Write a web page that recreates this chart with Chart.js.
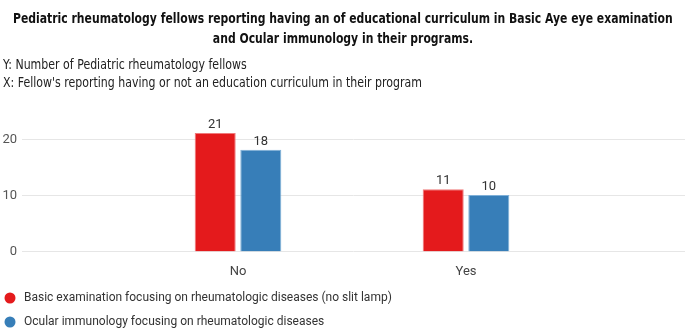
<!DOCTYPE html>
<html>
<head>
<meta charset="utf-8">
<script src="https://cdn.jsdelivr.net/npm/chart.js@4/dist/chart.umd.min.js"></script>
<style>
  html, body { margin: 0; padding: 0; background: #fff; }
  #wrap { position: relative; width: 685px; height: 331px; overflow: hidden; }
  #c { position: absolute; left: 0; top: 0; }
  .ln { position: absolute; white-space: nowrap; font-family: 'DejaVu Sans', sans-serif; }
  .t { font-weight: bold; font-size: 14px; line-height: 20px; color: #111; transform-origin: 50% 50%; }
  .s { font-size: 14px; line-height: 18px; color: #222; transform-origin: 0 50%; left: 3px; }
</style>
</head>
<body>
<div id="wrap">
  <canvas id="c" width="685" height="331"></canvas>
</div>
<script>
const titleLines = [
  "Pediatric rheumatology fellows reporting having an of educational curriculum in Basic Aye eye examination",
  "and Ocular immunology in their programs."
];
const axisNotes = [
  "Y: Number of Pediatric rheumatology fellows",
  "X: Fellow's reporting having or not an education curriculum in their program"
];
const categories = ["No", "Yes"];
const seriesNames = [
  "Basic examination focusing on rheumatologic diseases (no slit lamp)",
  "Ocular immunology focusing on rheumatologic diseases"
];
const basicExam = [21, 11];
const ocularImmunology = [18, 10];
const yTicks = [0, 10, 20];
const colors = ["#e41a1c", "#377eb8"];

// header text (real text), horizontally condensed to match the reference
const wrap = document.getElementById('wrap');
const titleEls = titleLines.map((txt, i) => {
  const d = document.createElement('div');
  d.className = 'ln t';
  d.textContent = txt;
  d.style.top = (8 + i * 20) + 'px';
  wrap.appendChild(d);
  return d;
});
const subEls = axisNotes.map((txt, i) => {
  const d = document.createElement('div');
  d.className = 'ln s';
  d.textContent = txt;
  d.style.top = (55 + i * 18) + 'px';
  wrap.appendChild(d);
  return d;
});
const tScale = 660 / titleEls[0].offsetWidth;
titleEls.forEach(d => {
  const w = d.offsetWidth;
  d.style.left = ((685 - w) / 2) + 'px';
  d.style.transform = 'scaleX(' + tScale + ')';
});
const sScale = 419 / subEls[1].offsetWidth;
subEls.forEach(d => { d.style.transform = 'scaleX(' + sScale + ')'; });

const FONT = "Roboto, 'Liberation Sans', sans-serif";

const extrasPlugin = {
  id: 'extras',
  beforeDatasetsDraw(chart) {
    const ctx = chart.ctx, y = chart.scales.y;
    ctx.save();
    ctx.strokeStyle = '#e6e6e6';
    ctx.lineWidth = 1;
    ctx.fillStyle = '#555';
    ctx.font = '13px ' + FONT;
    ctx.textAlign = 'right';
    ctx.textBaseline = 'middle';
    yTicks.forEach(v => {
      const py = Math.round(y.getPixelForValue(v)) + 0.5;
      ctx.beginPath();
      ctx.moveTo(22, py);
      ctx.lineTo(chart.width, py);
      ctx.stroke();
      ctx.fillText(String(v), 17, py);
    });
    ctx.restore();
  },
  afterDatasetsDraw(chart) {
    const ctx = chart.ctx;
    ctx.save();
    ctx.fillStyle = '#333';
    ctx.font = '13px ' + FONT;
    ctx.textAlign = 'center';
    ctx.textBaseline = 'bottom';
    chart.data.datasets.forEach((ds, i) => {
      chart.getDatasetMeta(i).data.forEach((bar, j) => {
        ctx.fillText(String(ds.data[j]), bar.x, bar.y - 2);
      });
    });
    // legend
    ctx.font = '12px ' + FONT;
    ctx.textAlign = 'left';
    ctx.textBaseline = 'middle';
    chart.data.datasets.forEach((ds, i) => {
      const cy = 298 + i * 24;
      ctx.beginPath();
      ctx.arc(10, cy, 5.5, 0, Math.PI * 2);
      ctx.fillStyle = ds.backgroundColor;
      ctx.fill();
      ctx.fillStyle = '#333';
      ctx.fillText(ds.label, 24, cy);
    });
    ctx.restore();
  }
};

new Chart(document.getElementById('c'), {
  type: 'bar',
  data: {
    labels: categories,
    datasets: [
      { label: seriesNames[0], data: basicExam, backgroundColor: colors[0], borderColor: '#f07a7b', borderWidth: 1 },
      { label: seriesNames[1], data: ocularImmunology, backgroundColor: colors[1], borderColor: '#7fb0d8', borderWidth: 1 }
    ]
  },
  options: {
    responsive: false,
    animation: false,
    events: [],
    layout: { padding: { left: 124, right: 105, top: 116, bottom: 46 } },
    datasets: { bar: { categoryPercentage: 0.4, barPercentage: 0.9 } },
    plugins: { legend: { display: false }, title: { display: false }, tooltip: { enabled: false } },
    scales: {
      x: {
        grid: { display: false },
        border: { display: false },
        ticks: { color: '#444', font: { family: FONT, size: 13 }, padding: 5 }
      },
      y: { display: false, min: 0, max: 24 }
    }
  },
  plugins: [extrasPlugin]
});
</script>
</body>
</html>
